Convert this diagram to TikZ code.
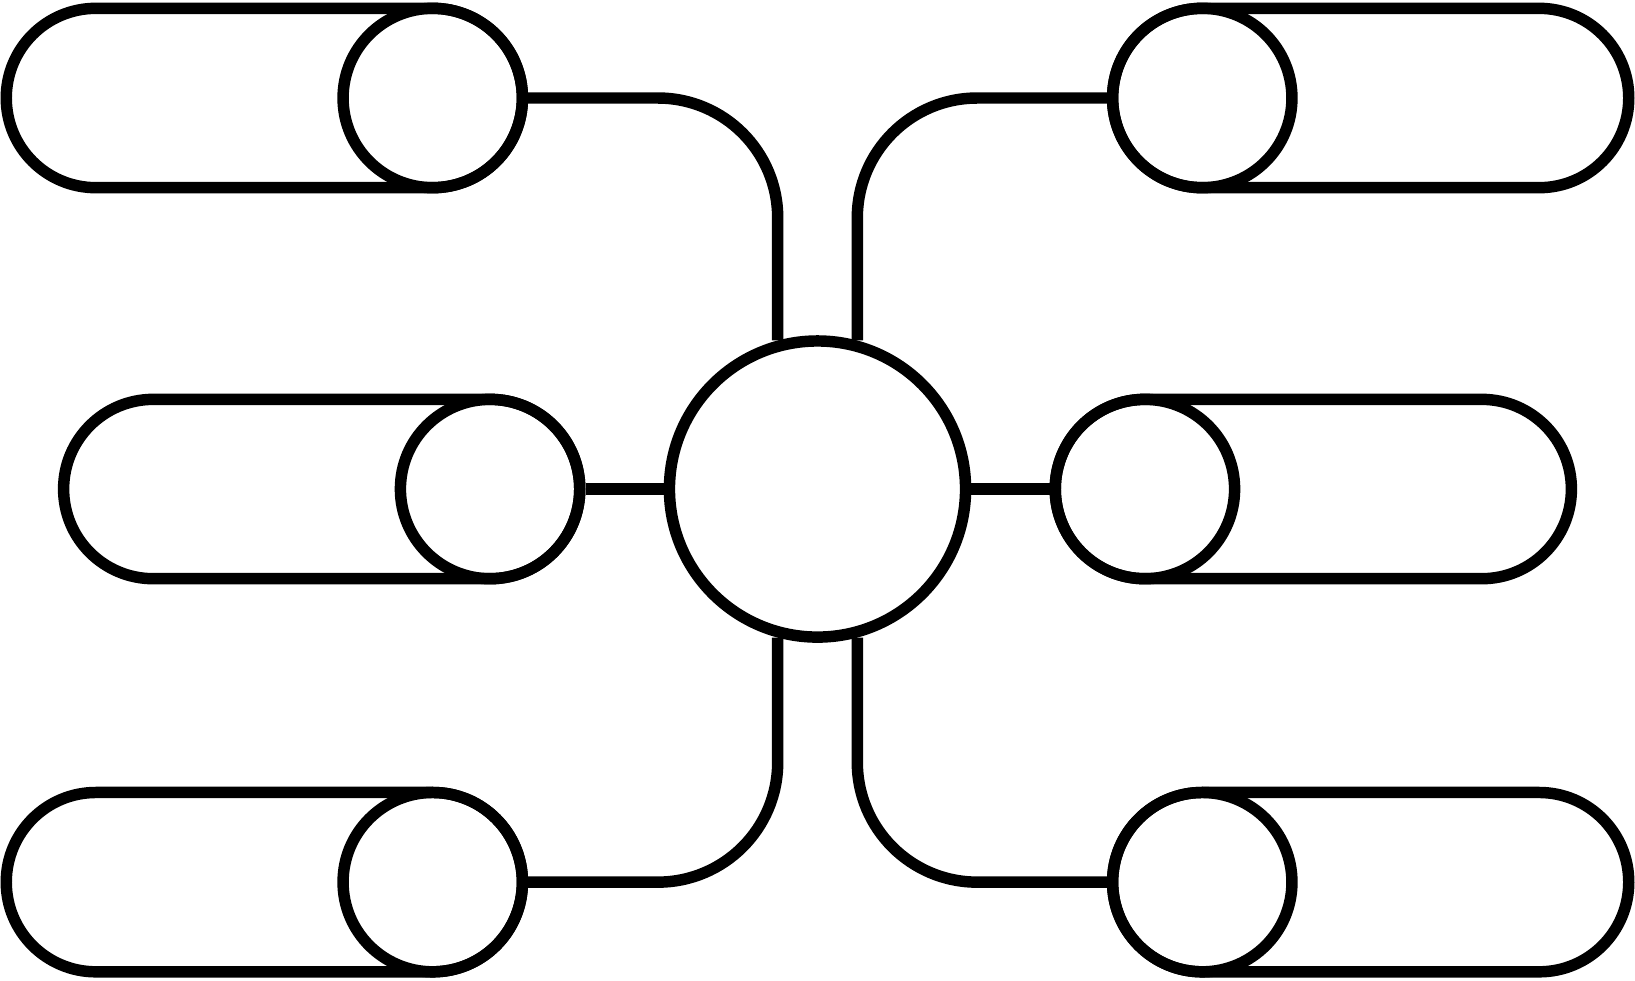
\documentclass[tikz,border=0pt]{standalone}
\usetikzlibrary{shapes.misc}
\tikzset{
  pill/.style={draw, rounded rectangle, minimum width=247.5pt, minimum height=86pt, inner sep=0pt},
  dot/.style={draw, circle, minimum size=86pt, inner sep=0pt},
  hubdot/.style={draw, circle, minimum size=142pt, inner sep=0pt},
  elbow/.style={rounded corners=57.5pt}
}
\begin{document}
\begin{tikzpicture}[x=0.5pt, y=-0.5pt, line width=5.5pt]
\useasboundingbox (0,0) rectangle (1568,940);
\node[hubdot] (hub) at (784,469) {};
\node[dot] (tlc) at (415,94) {};
\node[dot] (mlc) at (470,469) {};
\node[dot] (blc) at (415,846) {};
\node[dot] (trc) at (1153,94) {};
\node[dot] (mrc) at (1098,469) {};
\node[dot] (brc) at (1153,846) {};
\node[pill, anchor=east] (tl) at (tlc.east) {};
\node[pill, anchor=east] (ml) at (mlc.east) {};
\node[pill, anchor=east] (bl) at (blc.east) {};
\node[pill, anchor=west] (tr) at (trc.west) {};
\node[pill, anchor=west] (mr) at (mrc.west) {};
\node[pill, anchor=west] (br) at (brc.west) {};
\draw[elbow] (tlc.east) -| (hub.105);
\draw (mlc.east) -- (hub.west);
\draw[elbow] (blc.east) -| (hub.255);
\draw[elbow] (trc.west) -| (hub.75);
\draw (mrc.west) -- (hub.east);
\draw[elbow] (brc.west) -| (hub.285);
\end{tikzpicture}
\end{document}
